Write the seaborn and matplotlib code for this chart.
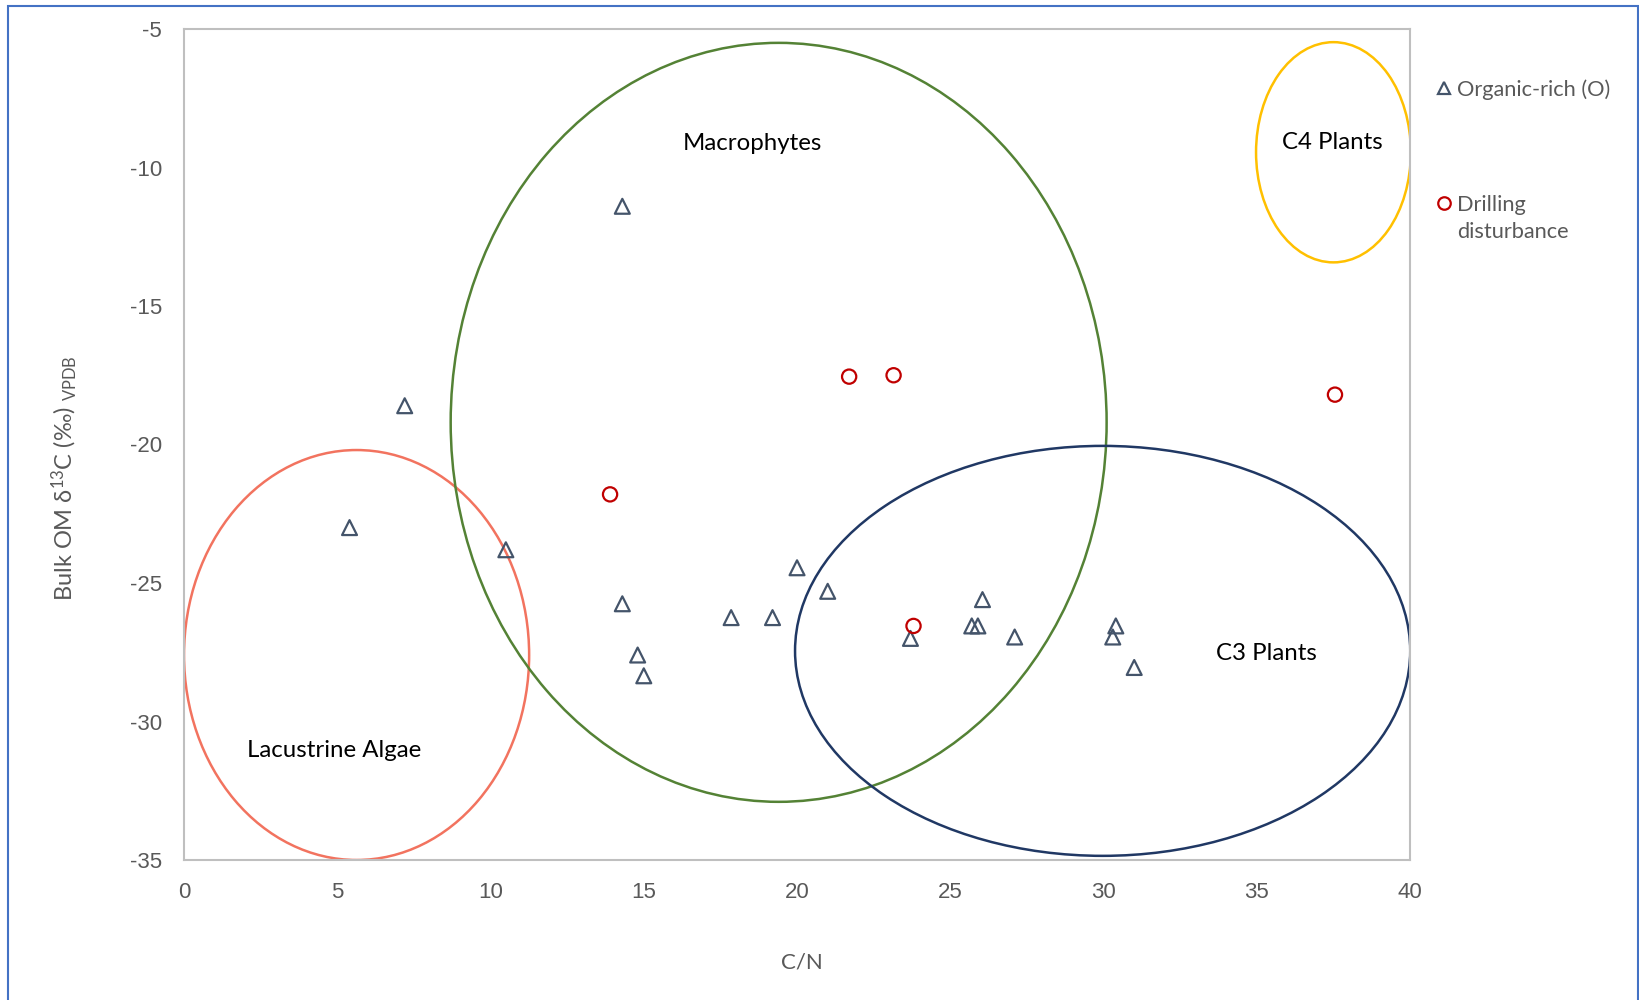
import numpy as np
import pandas as pd
import seaborn as sns
import matplotlib
matplotlib.use("Agg")
import matplotlib.pyplot as plt
from matplotlib.patches import Ellipse, Rectangle
from matplotlib.lines import Line2D

# ---- data ----
organic_cn = [14.3, 7.2, 5.4, 10.5, 14.3, 14.8, 15.0, 17.85, 19.2, 20.0, 21.0,
              23.7, 25.7, 25.9, 26.05, 27.1, 30.4, 30.3, 31.0]
organic_d13c = [-11.4, -18.6, -23.0, -23.8, -25.75, -27.6, -28.35, -26.25, -26.25,
                -24.45, -25.3, -27.0, -26.55, -26.55, -25.6, -26.95, -26.55, -26.95, -28.05]
drill_cn = [13.9, 21.7, 23.15, 23.8, 37.55]
drill_d13c = [-21.8, -17.55, -17.5, -26.55, -18.2]

# source fields: name, centre x, centre y, width, height, colour
field_names = ["Lacustrine Algae", "Macrophytes", "C3 Plants", "C4 Plants"]
field_cx = [5.63, 19.4, 29.97, 37.5]
field_cy = [-27.6, -19.2, -27.45, -9.45]
field_w = [11.26, 21.4, 20.07, 5.05]
field_h = [14.8, 27.4, 14.8, 7.95]
field_colors = ["#F2735F", "#548235", "#203864", "#FFC000"]
label_x = [4.9, 18.55, 35.3, 37.45]
label_y = [-31.05, -9.15, -27.55, -9.1]

x_ticks = [0, 5, 10, 15, 20, 25, 30, 35, 40]
y_ticks = [-35, -30, -25, -20, -15, -10, -5]

sns.set_theme(style="white")
plt.rcParams['font.family'] = ['Liberation Sans', 'DejaVu Sans']
plt.rcParams['axes.unicode_minus'] = False
plt.rcParams['mathtext.fontset'] = 'custom'
plt.rcParams['mathtext.rm'] = 'Lato'
plt.rcParams['mathtext.it'] = 'Lato'

fig = plt.figure(figsize=(16.4, 10), dpi=100)
ax = fig.add_axes([0.1122, 0.14, 0.7476, 0.831])

txt_col = "#595959"
lbl_font = ['Lato', 'DejaVu Sans']

for name, cx, cy, w, h, c, lx, ly in zip(field_names, field_cx, field_cy, field_w,
                                         field_h, field_colors, label_x, label_y):
    ax.add_patch(Ellipse((cx, cy), w, h, fill=False, edgecolor=c, linewidth=1.8, zorder=1))
    ax.text(lx, ly, name, ha="center", va="center", fontsize=17.3, color="black",
            family=lbl_font, zorder=3)

org = pd.DataFrame({"CN": organic_cn, "d13C": organic_d13c})
dri = pd.DataFrame({"CN": drill_cn, "d13C": drill_d13c})

sns.scatterplot(data=org, x="CN", y="d13C", ax=ax, marker="^", s=115,
                facecolor="none", edgecolor="#44546A", linewidth=1.6, zorder=4)
sns.scatterplot(data=dri, x="CN", y="d13C", ax=ax, marker="o", s=105,
                facecolor="none", edgecolor="#C00000", linewidth=1.6, zorder=4)

ax.set_xlim(0, 40)
ax.set_ylim(-35, -5)
ax.set_xticks(x_ticks)
ax.set_yticks(y_ticks)
ax.tick_params(axis="both", length=0, labelsize=16, labelcolor=txt_col)
ax.tick_params(axis="x", pad=16)
ax.tick_params(axis="y", pad=16)
for s in ax.spines.values():
    s.set_color("#BFBFBF")
    s.set_linewidth(1.5)

ax.set_xlabel("C/N", fontsize=16, color=txt_col, family=lbl_font)
ax.xaxis.set_label_coords(0.504, -0.111)
ax.set_ylabel("Bulk OM δ$^{13}$C (‰) $_{\\mathregular{VPDB}}$", fontsize=17,
              color=txt_col, family=lbl_font)
ax.yaxis.set_label_coords(-0.086, 0.46)

h_tri = Line2D([], [], marker="^", linestyle="none", markersize=9, markerfacecolor="none",
               markeredgecolor="#44546A", markeredgewidth=1.6)
h_circ = Line2D([], [], marker="o", linestyle="none", markersize=9, markerfacecolor="none",
                markeredgecolor="#C00000", markeredgewidth=1.6)
h_none = Line2D([], [], linestyle="none")
common = dict(loc="upper left", frameon=False, handlelength=0.6, handletextpad=0.3,
              prop={"family": lbl_font, "size": 15.7}, borderaxespad=0, borderpad=0)
leg1 = fig.legend([h_tri], ["Organic-rich (O)"], bbox_to_anchor=(0.8765, 0.921), **common)
leg2 = fig.legend([h_circ, h_none], ["Drilling", "disturbance"],
                  bbox_to_anchor=(0.8765, 0.805), labelspacing=0.33, **common)
for leg in (leg1, leg2):
    for t in leg.get_texts():
        t.set_color(txt_col)

fig.add_artist(Rectangle((0.005, -0.01), 0.9935, 1.004, transform=fig.transFigure,
                         fill=False, edgecolor="#4472C4", linewidth=1.5))

fig.savefig("out.png", dpi=100)
